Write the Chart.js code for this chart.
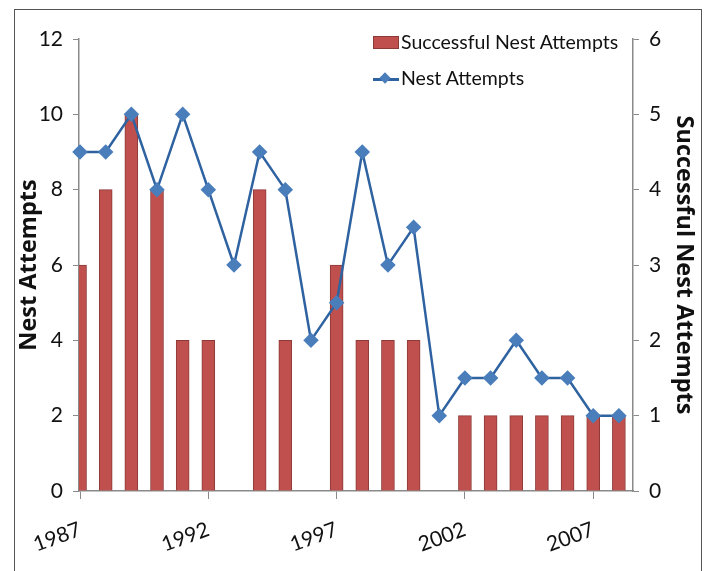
<!DOCTYPE html>
<html>
<head>
<meta charset="utf-8">
<script src="https://cdn.jsdelivr.net/npm/chart.js@4"></script>
<style>
  body { margin: 0; background: #fff; }
  #wrap { position: relative; width: 708px; height: 571px; overflow: hidden; }
  #frame { position: absolute; left: 14px; top: 9px; width: 686px; height: 600px;
           border: 1.5px solid #555; pointer-events: none; }
  .legend { position: absolute; left: 373px; font-family: Lato, 'Open Sans', sans-serif;
            font-size: 19.5px; color: #111; line-height: 24px; white-space: nowrap; }
  .legend .swatch { position: absolute; left: 0; top: 5px; width: 24px; height: 11px;
                    background: #C0504D; border: 1px solid #8C3A38; }
  .legend .ln { position: absolute; left: 0; top: 11px; width: 26px; height: 2.5px; background: #2F62A0; }
  .legend .dm { position: absolute; left: 8px; top: 7px; width: 8px; height: 8px; background: #4A7EBB;
                transform: rotate(45deg); }
  .legend span { position: absolute; left: 28px; top: -1px; }
</style>
</head>
<body>
<div id="wrap">
  <canvas id="nestChart" width="708" height="571"></canvas>
  <div class="legend" style="top:31px;"><div class="swatch"></div><span>Successful Nest Attempts</span></div>
  <div class="legend" style="top:67px;"><div class="ln"></div><div class="dm"></div><span>Nest Attempts</span></div>
  <div id="frame"></div>
</div>
<script>
// Yearly nest counts
const years = [1987, 1988, 1989, 1990, 1991, 1992, 1993, 1994, 1995, 1996, 1997,
               1998, 1999, 2000, 2001, 2002, 2003, 2004, 2005, 2006, 2007, 2008];
const nestAttempts = [9, 9, 10, 8, 10, 8, 6, 9, 8, 4, 5, 9, 6, 7, 2, 3, 3, 4, 3, 3, 2, 2];
const successfulAttempts = [3, 4, 5, 4, 2, 2, 0, 4, 2, 0, 3, 2, 2, 2, 0, 1, 1, 1, 1, 1, 1, 1];
const yearTicks = [1987, 1992, 1997, 2002, 2007];

const fontFamily = "Lato, 'Open Sans', sans-serif";
const titleFamily = "'Open Sans', sans-serif";
const axisColor = '#8a8a8a';

const ctx = document.getElementById('nestChart').getContext('2d');
new Chart(ctx, {
  data: {
    datasets: [{
      type: 'line',
      label: 'Nest Attempts',
      data: years.map((yr, i) => ({ x: yr, y: nestAttempts[i] })),
      yAxisID: 'y',
      borderColor: '#2F62A0',
      borderWidth: 2.5,
      pointStyle: 'rectRot',
      pointRadius: 6,
      pointBackgroundColor: '#4A7EBB',
      pointBorderColor: '#4A7EBB',
      tension: 0,
      clip: false,
      order: 0
    }, {
      type: 'bar',
      label: 'Successful Nest Attempts',
      data: years.map((yr, i) => ({ x: yr, y: successfulAttempts[i] })),
      yAxisID: 'y2',
      backgroundColor: '#C0504D',
      borderColor: '#8C3A38',
      borderWidth: 1,
      barThickness: 13,
      clip: 0,
      order: 1
    }]
  },
  options: {
    responsive: false,
    animation: false,
    layout: { padding: { top: 39, left: 0, right: 0, bottom: 0 } },
    plugins: { legend: { display: false }, tooltip: { enabled: false } },
    scales: {
      x: {
        type: 'linear',
        min: 1986.96,
        max: 2008.55,
        offset: false,
        afterBuildTicks: scale => { scale.ticks = yearTicks.map(v => ({ value: v })); },
        afterFit: scale => { scale.height = 80; },
        grid: { offset: false, drawOnChartArea: false, drawTicks: true, tickLength: 8, color: axisColor },
        border: { color: axisColor, width: 1.5 },
        ticks: {
          minRotation: 20, maxRotation: 20, padding: 18,
          color: '#111', font: { family: fontFamily, size: 21 },
          callback: v => String(v)
        }
      },
      y: {
        position: 'left',
        min: 0, max: 12,
        afterFit: scale => { scale.width = 79; },
        grid: { drawOnChartArea: false, drawTicks: true, tickLength: 6, color: axisColor },
        border: { color: axisColor, width: 1.5 },
        ticks: { stepSize: 2, padding: 10, color: '#111', font: { family: fontFamily, size: 21 } },
        title: {
          display: true, text: 'Nest Attempts', color: '#111',
          font: { family: titleFamily, size: 23.5, weight: 'bold' },
          padding: { top: 15, bottom: 0 }
        }
      },
      y2: {
        position: 'right',
        min: 0, max: 6,
        afterFit: scale => { scale.width = 75; },
        grid: { drawOnChartArea: false, drawTicks: true, tickLength: 6, color: axisColor },
        border: { color: axisColor, width: 1.5 },
        ticks: { stepSize: 1, padding: 10, color: '#111', font: { family: fontFamily, size: 21 } },
        title: {
          display: true, text: 'Successful Nest Attempts', color: '#111',
          font: { family: titleFamily, size: 23.5, weight: 'bold' },
          padding: { top: 10, bottom: 0 }
        }
      }
    }
  }
});
</script>
</body>
</html>
